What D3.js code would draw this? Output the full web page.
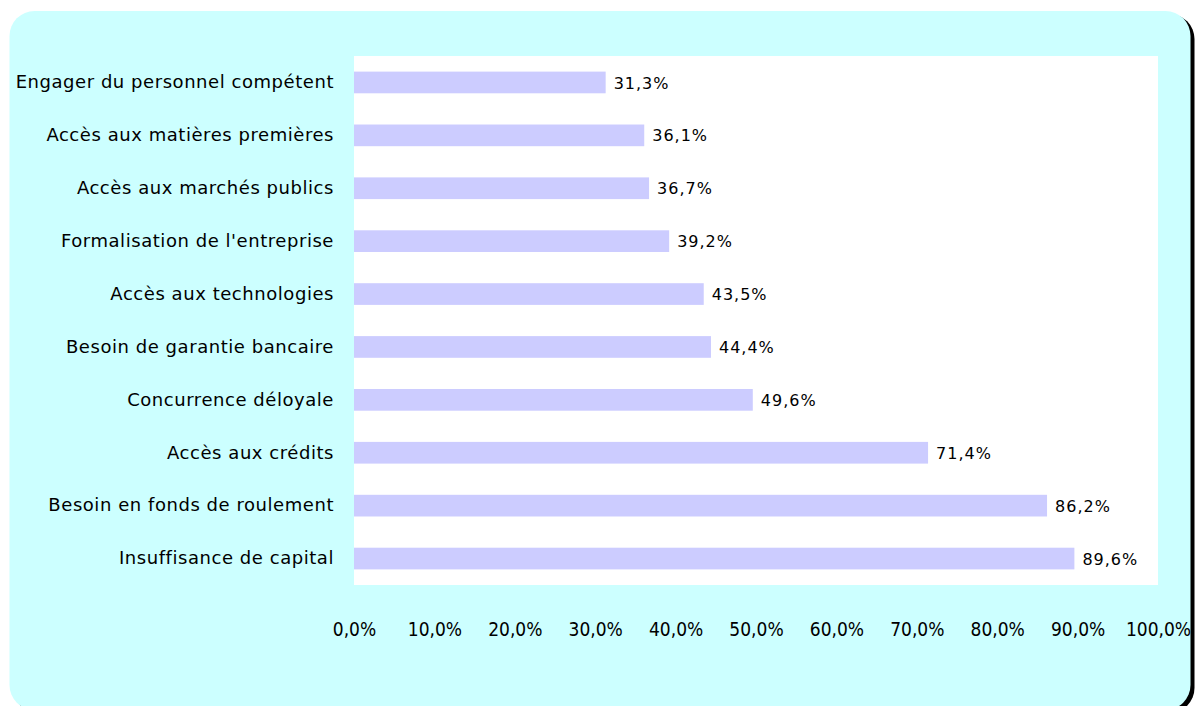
<!DOCTYPE html>
<html><head><meta charset="utf-8">
<script src="https://cdn.jsdelivr.net/npm/d3@7"></script>
<style>body{margin:0;background:#fff;overflow:hidden}</style>
</head><body>
<svg id="chart" width="1198" height="706"></svg>
<script>
const categories = [
  "Engager du personnel compétent",
  "Accès aux matières premières",
  "Accès aux marchés publics",
  "Formalisation de l'entreprise",
  "Accès aux technologies",
  "Besoin de garantie bancaire",
  "Concurrence déloyale",
  "Accès aux crédits",
  "Besoin en fonds de roulement",
  "Insuffisance de capital"
];
const values = [31.3, 36.1, 36.7, 39.2, 43.5, 44.4, 49.6, 71.4, 86.2, 89.6];
const tickValues = [0, 10, 20, 30, 40, 50, 60, 70, 80, 90, 100];

const svg = d3.select("#chart");
const fmt = v => d3.format(".1f")(v).replace(".", ",") + "%";

// frame
svg.append("rect").attr("x", 13.5).attr("y", 14).attr("width", 1181).attr("height", 699)
  .attr("rx", 25).attr("ry", 25).attr("fill", "#000");
svg.append("rect").attr("x", 9.5).attr("y", 11).attr("width", 1181).attr("height", 699)
  .attr("rx", 25).attr("ry", 25).attr("fill", "#CCFFFF");

const plot = {x0: 354, x1: 1158, y0: 56, y1: 585};
svg.append("rect").attr("x", plot.x0).attr("y", plot.y0)
  .attr("width", plot.x1 - plot.x0).attr("height", plot.y1 - plot.y0).attr("fill", "#fff");

const x = d3.scaleLinear().domain([0, 100]).range([plot.x0, plot.x1]);
const y = d3.scaleBand().domain(categories).range([plot.y0, plot.y1]).paddingInner(0.59).paddingOuter(0.295);

svg.selectAll(".bar").data(values).join("rect")
  .attr("x", x(0)).attr("y", (d, i) => y(categories[i]))
  .attr("width", d => x(d) - x(0)).attr("height", y.bandwidth())
  .attr("fill", "#CCCCFF");

svg.selectAll(".val").data(values).join("text")
  .attr("x", d => x(d) + 8).attr("y", (d, i) => y(categories[i]) + y.bandwidth() / 2)
  .attr("dy", "0.38em").attr("font-family", "DejaVu Sans").attr("font-size", 16)
  .attr("letter-spacing", 1).attr("fill", "#000").text(d => fmt(d));

const yAxis = d3.axisLeft(y).tickSize(0).tickPadding(0);
const gy = svg.append("g").attr("transform", `translate(334,0)`).call(yAxis);
gy.select(".domain").remove();
gy.selectAll("text").attr("font-family", "DejaVu Sans").attr("font-size", 18)
  .attr("letter-spacing", 0.55).attr("fill", "#000");

const xAxis = d3.axisBottom(x).tickValues(tickValues).tickSize(0).tickPadding(0).tickFormat(fmt);
const gx = svg.append("g").attr("transform", `translate(0,622)`).call(xAxis);
gx.select(".domain").remove();
gx.selectAll("text").attr("font-family", "DejaVu Sans Condensed, DejaVu Sans").attr("font-size", 19).attr("fill", "#000");
</script>
</body></html>
